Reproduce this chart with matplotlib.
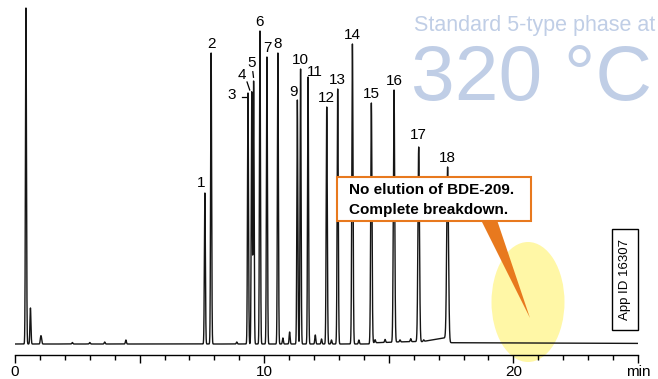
import numpy as np
import matplotlib.pyplot as plt
from matplotlib.patches import Ellipse, Polygon, Rectangle

plt.rcParams['font.family'] = ['Liberation Sans', 'DejaVu Sans']

W, H = 658, 379

# picos numerados: tiempo de retencion (min), altura (px sobre la linea base), anchura (min)
peak_ids = [str(i) for i in range(1, 19)]
peak_times = [7.62, 7.87, 9.35, 9.50, 9.575, 9.83, 10.11, 10.55, 11.33, 11.46,
              11.76, 12.51, 12.95, 13.54, 14.30, 15.21, 16.20, 17.36]
peak_heights = [151, 291, 251, 252, 263, 313, 287, 291, 244, 275,
                267, 237, 255, 300, 241, 254, 197, 177]
peak_sigmas = [0.02, 0.02, 0.02, 0.02, 0.02, 0.02, 0.02, 0.02, 0.02, 0.02,
               0.02, 0.022, 0.022, 0.024, 0.025, 0.027, 0.03, 0.035]

# solvente y picos pequenos sin numero
minor_times = [0.44, 0.62, 1.03, 1.06, 2.3, 3.0, 3.6, 4.45, 8.9, 10.75, 11.02,
               12.05, 12.3, 12.7, 13.8, 14.45, 14.85, 15.45, 15.88, 16.4]
minor_heights = [336, 36, 6, 5, 1.5, 1.5, 2, 4, 2, 6, 12,
                 9, 5, 4, 4, 3, 3, 2, 3, 1.5]

# zonas elevadas de la linea base (inicio, fin, altura inicial, altura final)
ramp_start = [14.33, 15.25, 16.24, 17.40]
ramp_end = [15.19, 16.18, 17.34, 25.0]
ramp_h0 = [1.2, 2.0, 2.0, 1.3]
ramp_h1 = [1.8, 2.5, 6.5, 0.6]

x_ticks = [0, 5, 10, 15, 20, 25]
x_ticklabels = ['0', '', '10', '', '20', 'min']

t = np.arange(0, 25.0001, 0.002)
y = np.zeros_like(t)
for tr, h, s in zip(peak_times, peak_heights, peak_sigmas):
    y += h * np.exp(-0.5 * ((t - tr) / s) ** 2)
for tr, h in zip(minor_times, minor_heights):
    y += h * np.exp(-0.5 * ((t - tr) / 0.02) ** 2)
for a, b, h0, h1 in zip(ramp_start, ramp_end, ramp_h0, ramp_h1):
    m = (t >= a) & (t <= b)
    y[m] += h0 + (h1 - h0) * (t[m] - a) / (b - a)

fig = plt.figure(figsize=(W / 100, H / 100), dpi=100)
ax = fig.add_axes([15 / W, 1 - 355 / H, (638 - 15) / W, 355 / H])
ax.plot(t, y, color='#151515', lw=1.0, zorder=2)
ax.set_xlim(0, 25)
ax.set_ylim(-11, 344)

for s in ['left', 'right', 'top']:
    ax.spines[s].set_visible(False)
ax.spines['bottom'].set_linewidth(1.0)
ax.set_yticks([])
ax.set_xticks(x_ticks)
ax.set_xticklabels(x_ticklabels, fontsize=11)
ax.set_xticks(np.arange(0, 26, 1), minor=True)
ax.tick_params(axis='x', which='major', length=5.5, width=1, pad=1.5)
ax.tick_params(axis='x', which='minor', length=3.5, width=1)

ppm = (638 - 15) / 25  # px por minuto

# etiquetas de los picos (desplazamiento en px respecto a la cima)
label_off = {'1': (-4, 10), '3': (-16, -2), '4': (-10, 17), '5': (-2, 18),
             '9': (-4, 8), '11': (7, 5), '17': (0, 12)}
for pid, tr, h in zip(peak_ids, peak_times, peak_heights):
    dx, dy = label_off.get(pid, (0, 9))
    ax.text(tr + dx / ppm, h + dy, pid, ha='center', va='center', fontsize=11, zorder=5)

# pequenas lineas guia de 3, 4 y 5
leaders = {'3': ((-6.5, -2.5), (-4, -4)), '4': ((-4.7, -2), (10, 2)), '5': ((-0.8, -0.1), (9.3, 3.7))}
for pid, (dxs, dys) in leaders.items():
    i = peak_ids.index(pid)
    ax.plot([peak_times[i] + d / ppm for d in dxs], [peak_heights[i] + d for d in dys],
            color='black', lw=0.9, zorder=5)

def fx(px):
    return px / W

def fy(py):
    return 1 - py / H

# elipse amarilla y flecha naranja
ax.add_patch(Ellipse((fx(528), fy(302)), 73 / W, 120 / H, transform=fig.transFigure,
                     facecolor='#FFF7A6', edgecolor='none', zorder=0.5, clip_on=False))
ax.add_patch(Polygon([(fx(481), fy(220)), (fx(497), fy(220)), (fx(530), fy(318))],
                     closed=True, transform=fig.transFigure, facecolor='#E8791E',
                     edgecolor='none', zorder=3, clip_on=False))
ax.add_patch(Rectangle((fx(337), fy(221)), 194 / W, 44 / H, transform=fig.transFigure,
                       facecolor='white', edgecolor='#E8791E', lw=1.5, zorder=4, clip_on=False))
fig.text(fx(349), fy(190.5), 'No elution of BDE-209.', fontsize=11, fontweight='bold',
         ha='left', va='center')
fig.text(fx(349), fy(210), 'Complete breakdown.', fontsize=11, fontweight='bold',
         ha='left', va='center')

# recuadro App ID
ax.add_patch(Rectangle((fx(612), fy(330)), 26 / W, 101 / H, transform=fig.transFigure,
                       facecolor='white', edgecolor='black', lw=1.0, zorder=4, clip_on=False))
fig.text(fx(625), fy(280), 'App ID 16307', rotation=90, fontsize=9.5, ha='center', va='center')

# titulo
fig.text(fx(414), fy(31.5), 'Standard 5-type phase at', fontsize=15.5, color='#C0CEE6',
         ha='left', va='baseline')
fig.text(fx(411), fy(100), '320 °C', fontsize=56.5, color='#C0CEE6', ha='left', va='baseline')

fig.savefig('out.png', dpi=100)
